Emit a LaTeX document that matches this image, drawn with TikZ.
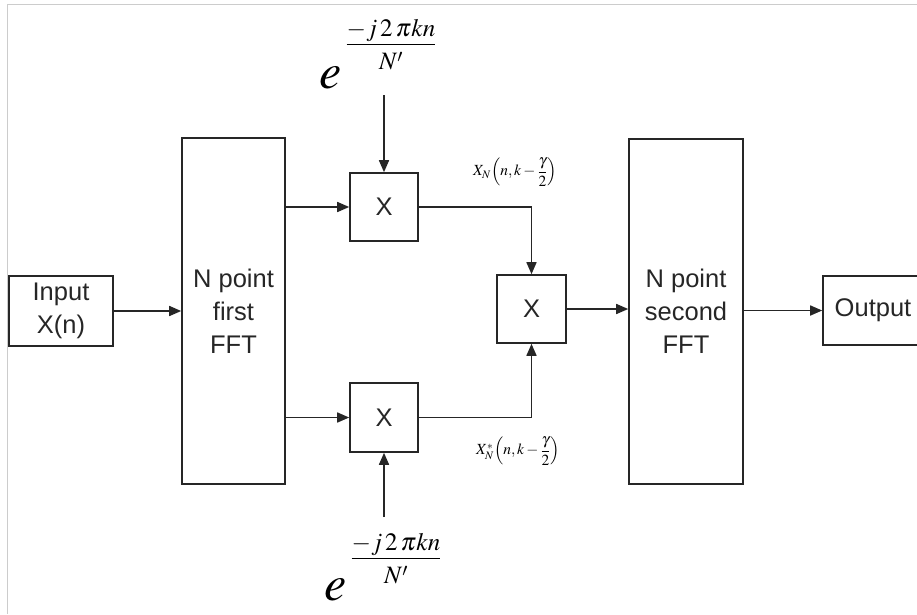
\documentclass[tikz,border=0pt]{standalone}
\usepackage{amsmath}
\usepackage{mathptmx}
\usepackage{fontspec}
\setsansfont{Liberation Sans}
\usetikzlibrary{arrows.meta}
\newcommand{\expfrac}{$\dfrac{\raisebox{-5pt}{$-j\,2\,\pi kn$}}{\rule{0pt}{0.85em}N'}$}
\begin{document}
\begin{tikzpicture}[x=1pt,y=-1pt,
  blk/.style={draw=black!85,line width=1.6pt,rectangle,inner sep=0pt,align=center,
    font=\sffamily\fontsize{25.5}{33}\selectfont,text=black!85},
  conn/.style={draw=black!85,line width=1.6pt,-{Triangle[length=12pt,width=10pt]}},
  ebig/.style={inner sep=0pt,anchor=base,font=\fontsize{50}{50}\selectfont},
  efrac/.style={inner sep=0pt,anchor=base,font=\fontsize{25}{28}\selectfont},
  lbl/.style={inner sep=0pt,font=\fontsize{15.5}{17}\selectfont},
  frame/.style={draw=black!20,line width=1pt}]
\useasboundingbox (0,0) rectangle (917,614);
\draw[frame] (7,614) -- (7,4.5) -- (917,4.5);
% boxes
\node[blk,minimum width=104pt,minimum height=70pt] (in) at (61,311) {Input\\X(n)};
\node[blk,minimum width=103pt,minimum height=346pt] (fft1) at (233.5,311) {N point\\first\\FFT};
\node[blk,minimum width=68pt,minimum height=68pt] (m1) at (384,207) {X};
\node[blk,minimum width=68pt,minimum height=69pt] (m2) at (384,417.5) {X};
\node[blk,minimum width=69pt,minimum height=68pt] (m3) at (531.5,309) {X};
\node[blk,minimum width=114pt,minimum height=345pt] (fft2) at (686,311.5) {N point\\second\\FFT};
\node[blk,minimum width=100pt,minimum height=69pt] (out) at (873,310.5) {Output};
% exponentials
\node[ebig] (e1) at (331,88) {$e$};
\node[efrac] (f1) at (391,51) {\expfrac};
\node[ebig] (e2) at (336,600) {$e$};
\node[efrac] (f2) at (396,565) {\expfrac};
\coordinate (t1) at (384,95);
\coordinate (t2) at (384,517);
% labels
\node[lbl] (l1) at (515,172) {$X_N\!\left(n,k-\dfrac{\gamma}{2}\right)$};
\node[lbl] (l2) at (518,451) {$X_N^{*}\!\left(n,k-\dfrac{\gamma}{2}\right)$};
% connectors
\draw[conn] (in.east) -- (in.east -| fft1.west);
\draw[conn] (fft1.east |- m1.west) -- (m1.west);
\draw[conn] (fft1.east |- m2.west) -- (m2.west);
\draw[conn] (t1) -- (m1.north);
\draw[conn] (t2) -- (m2.south);
\draw[conn] (m1.east) -| (m3.north);
\draw[conn] (m2.east) -| (m3.south);
\draw[conn] (m3.east) -- (m3.east -| fft2.west);
\draw[conn] (fft2.east |- out.west) -- (out.west);
\end{tikzpicture}
\end{document}
